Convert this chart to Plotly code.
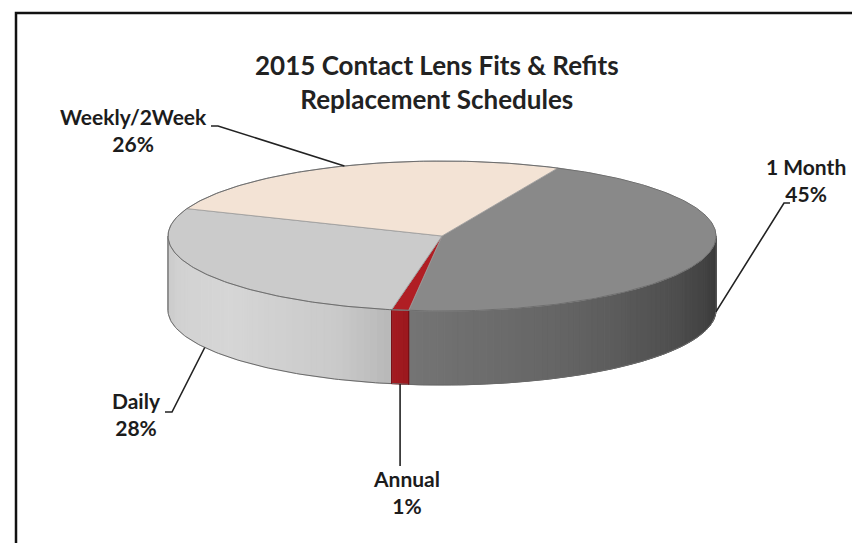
import numpy as np
import plotly.graph_objects as go

# ---------------- data ----------------
categories = ["1 Month", "Annual", "Daily", "Weekly/2Week"]
values = [45, 1, 28, 26]
pct_labels = ["45%", "1%", "28%", "26%"]
title_lines = ["2015 Contact Lens Fits & Refits", "Replacement Schedules"]

# ---------------- style / geometry ----------------
W, H = 860, 543
CX, CY, RX, RY, DEPTH = 434, 228, 274, 75, 74
START = 65.0  # degrees, slices run clockwise
top_colors = {"1 Month": "#898989", "Annual": "#b01e24", "Daily": "#cbcbcb", "Weekly/2Week": "#f3e3d5"}
# gradient stops along the visible side, f=0 at the left end, f=1 at the right end
side_stops = {
    "1 Month": [(0.0, (0x74, 0x74, 0x74)), (0.35, (0x64, 0x64, 0x64)), (0.75, (0x48, 0x48, 0x48)), (1.0, (0x36, 0x36, 0x36))],
    "Annual": [(0.0, (0xa4, 0x1a, 0x20)), (1.0, (0x9a, 0x18, 0x1e))],
    "Daily": [(0.0, (0xc8, 0xc8, 0xc8)), (0.2, (0xd1, 0xd1, 0xd1)), (0.5, (0xd6, 0xd6, 0xd6)), (0.85, (0xca, 0xca, 0xca)), (1.0, (0xb8, 0xb8, 0xb8))],
    "Weekly/2Week": [(0.0, (0xe0, 0xd0, 0xc2)), (1.0, (0xe0, 0xd0, 0xc2))],
}
FONT = "Lato"
TXT = "#1c1c1c"


def ell(theta_deg, dz=0.0):
    t = np.radians(theta_deg)
    return CX + RX * np.cos(t), CY - RY * np.sin(t) + dz


def interp(stops, f):
    for (f0, c0), (f1, c1) in zip(stops[:-1], stops[1:]):
        if f0 <= f <= f1:
            u = (f - f0) / (f1 - f0) if f1 > f0 else 0
            c = [round(a + (b - a) * u) for a, b in zip(c0, c1)]
            return "rgb(%d,%d,%d)" % tuple(c)
    return "rgb(%d,%d,%d)" % stops[-1][1]


total = float(sum(values))
spans = []
a = START
for v in values:
    b = a - v / total * 360.0
    spans.append((a, b))
    a = b

fig = go.Figure()

# ---------- side walls (front half only: angles in [-180, 0]) ----------
for name, (a, b) in zip(categories, spans):
    hi, lo = min(a, 0.0), max(b, -180.0)
    if hi <= lo:
        continue
    n = max(2, int(np.ceil((hi - lo) / 1.5)))
    edges = np.linspace(lo, hi, n + 1)
    for i in range(n):
        t0, t1 = edges[i], edges[i + 1]
        ts = np.linspace(t0, t1, 4)
        xt, yt = ell(ts)
        xb, yb = ell(ts[::-1], DEPTH)
        xs = np.concatenate([xt, xb, xt[:1]])
        ys = np.concatenate([yt, yb, yt[:1]])
        f = (i + 0.5) / n
        col = interp(side_stops[name], f)
        fig.add_trace(go.Scatter(x=xs, y=ys, mode="lines", fill="toself", fillcolor=col,
                                 line=dict(color=col, width=1), hoverinfo="skip", showlegend=False))

# side outline: bottom curve and vertical extremes
tb = np.linspace(0, -180, 200)
xb, yb = ell(tb, DEPTH)
fig.add_trace(go.Scatter(x=xb, y=yb, mode="lines", line=dict(color="#6a6a6a", width=1),
                         hoverinfo="skip", showlegend=False))
for t in (0.0, -180.0):
    x0, y0 = ell(t)
    x1, y1 = ell(t, DEPTH)
    fig.add_trace(go.Scatter(x=[x0, x1], y=[y0, y1], mode="lines", line=dict(color="#555555", width=1),
                             hoverinfo="skip", showlegend=False))
# seams on the side between visible slices
for a, b in spans:
    for t in (a, b):
        tt = ((t + 180) % 360) - 180
        if -180 < tt < 0:
            x0, y0 = ell(tt)
            x1, y1 = ell(tt, DEPTH)
            fig.add_trace(go.Scatter(x=[x0, x1], y=[y0, y1], mode="lines", line=dict(color="#7a1015", width=1),
                                     hoverinfo="skip", showlegend=False))

# ---------- top faces ----------
for name, (a, b) in zip(categories, spans):
    ts = np.linspace(a, b, max(3, int(abs(a - b) * 2)))
    xt, yt = ell(ts)
    xs = np.concatenate([[CX], xt, [CX]])
    ys = np.concatenate([[CY], yt, [CY]])
    fig.add_trace(go.Scatter(x=xs, y=ys, mode="lines", fill="toself", fillcolor=top_colors[name],
                             line=dict(color="#9a9a9a", width=0.8), hoverinfo="skip", showlegend=False))

to = np.linspace(0, 360, 400)
xo, yo = ell(to)
fig.add_trace(go.Scatter(x=xo, y=yo, mode="lines", line=dict(color="#6e6e6e", width=1),
                         hoverinfo="skip", showlegend=False))

# ---------- labels with leader lines ----------
label_cfg = {
    "1 Month": dict(pos=(798, 172), frac=0.41, dz=DEPTH, start=[(782, 195), (776, 195)]),
    "Annual": dict(pos=(398, 484), frac=0.5, dz=DEPTH, start=[(None, 458)]),
    "Daily": dict(pos=(128, 406), frac=0.49, dz=DEPTH, start=[(157, 404), (164, 404)]),
    "Weekly/2Week": dict(pos=(125, 122), frac=0.51, dz=0, start=[(203, 118), (210, 118)]),
}
for name, (a, b), pl in zip(categories, spans, pct_labels):
    cfg = label_cfg[name]
    t = a + (b - a) * cfg["frac"]
    ax_, ay_ = ell(t, cfg["dz"])
    pts = []
    for (sx, sy) in cfg["start"]:
        pts.append((ax_ if sx is None else sx, sy))
    pts.append((ax_, ay_))
    fig.add_trace(go.Scatter(x=[p[0] for p in pts], y=[p[1] for p in pts], mode="lines",
                             line=dict(color="#222222", width=1.6), hoverinfo="skip", showlegend=False))
    fig.add_annotation(x=cfg["pos"][0], y=cfg["pos"][1], text="<b>%s</b><br><b>%s</b>" % (name, pl),
                       showarrow=False, xanchor="center", yanchor="middle", align="center",
                       font=dict(family=FONT, size=21, color=TXT))

fig.add_annotation(x=429, y=74, text="<b>%s</b><br><b>%s</b>" % tuple(title_lines), showarrow=False,
                   xanchor="center", yanchor="middle", align="center",
                   font=dict(family=FONT, size=26, color="#222222"))

# frame (left and top edges visible)
fig.add_shape(type="rect", x0=8, y0=5, x1=W + 20, y1=H + 20, xref="x", yref="y",
              line=dict(color="#111111", width=2.5), fillcolor="rgba(0,0,0,0)", layer="above")

fig.update_layout(width=W, height=H, autosize=False, margin=dict(l=0, r=0, t=0, b=0),
                  paper_bgcolor="white", plot_bgcolor="white", showlegend=False,
                  xaxis=dict(range=[0, W], visible=False, fixedrange=True),
                  yaxis=dict(range=[H, 0], visible=False, fixedrange=True))
fig.write_html("out.html")
